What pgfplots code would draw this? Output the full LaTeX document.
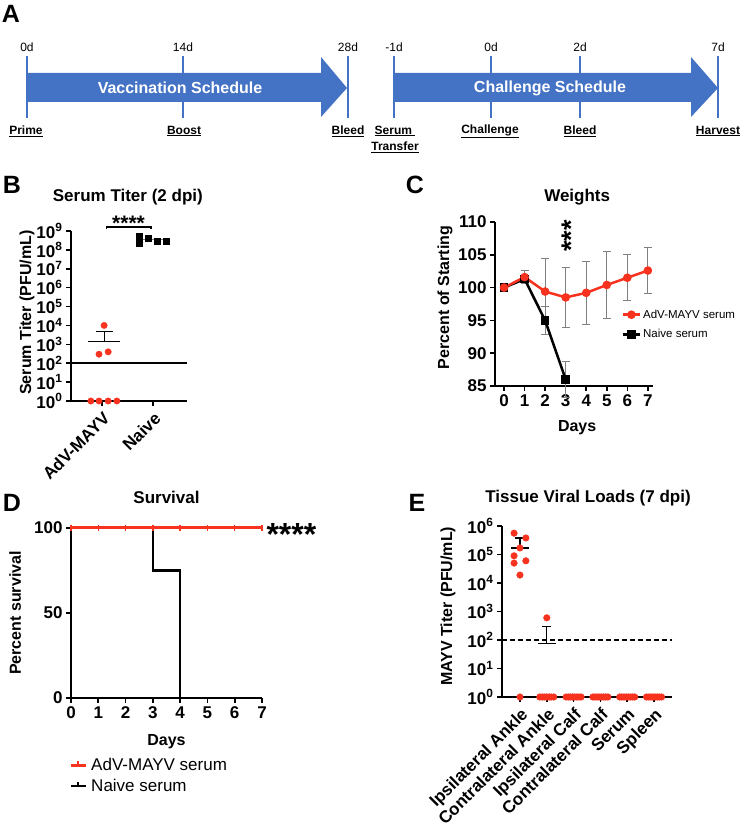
\documentclass[border=0pt]{standalone}
\usepackage{fontspec}
\setmainfont{Liberation Sans}
\usepackage{pgfplots}
\pgfplotsset{compat=1.18}
\definecolor{myred}{RGB}{247,50,30}
\definecolor{ablue}{RGB}{68,114,196}
\newcommand\fs[2]{\fontsize{#1}{#2}\selectfont}
\pgfplotsset{
  panel/.style={scale only axis, axis lines=left, axis line style={line width=1.8pt, -, black},
    tick style={line width=1.6pt, black}, major tick length=5pt, tick align=outside,
    minor tick style={draw=none},
    clip=false, ticklabel style={font=\bfseries\fs{17}{20}},
    /pgf/number format/assume math mode=true,
    label style={font=\bfseries\fs{16}{19}}, title style={font=\bfseries\fs{17}{20}, yshift=-8pt}}
}
\begin{document}
\begin{tikzpicture}[x=1pt,y=1pt]
\useasboundingbox (0,0) rectangle (743,824);
% ---------------- Panel A ----------------
\node[font=\bfseries\fs{25}{28}] at (11,810) {A};
\fill[ablue] (27,751) -- (321,751) -- (321,767) -- (347,736) -- (321,707) -- (321,722) -- (27,722) -- cycle;
\fill[ablue] (394,751) -- (691,751) -- (691,767) -- (718,736) -- (691,707) -- (691,722) -- (394,722) -- cycle;
\foreach \x in {27,183,348,394,491,580,718} \draw[ablue, line width=1.5pt] (\x,768) -- (\x,706);
\foreach \x/\t in {27/0d,183/14d,348/28d,394/-1d,491/0d,580/2d,718/7d}
  \node[font=\fs{12}{14}] at (\x,777) {\t};
\node[font=\bfseries\fs{16}{19}, text=white] at (180,736) {Vaccination Schedule};
\node[font=\bfseries\fs{16}{19}, text=white] at (550,736) {Challenge Schedule};
\foreach \x/\t in {26/Prime,184/Boost,348/Bleed,490/Challenge,580/Bleed,718/Harvest}
  \node[font=\bfseries\fs{12}{14}] at (\x,693) {\underline{\t}};
\node[font=\bfseries\fs{12}{14}] at (395,693) {\underline{Serum\ }};
\node[font=\bfseries\fs{12}{14}] at (395,677) {\underline{Transfer}};
% ---------------- Panel letters ----------------
\node[font=\bfseries\fs{25}{28}] at (12,639) {B};
\node[font=\bfseries\fs{25}{28}] at (415,639) {C};
\node[font=\bfseries\fs{25}{28}] at (12,321) {D};
\node[font=\bfseries\fs{25}{28}] at (417,321) {E};
% ---------------- Panel B ----------------
\begin{axis}[panel, at={(71pt,423pt)}, anchor=south west, width=116pt, height=170pt,
  ymode=log, ymin=1, ymax=1e9, xmin=-0.61, xmax=1.667,
  ytick={1,10,100,1000,10000,100000,1000000,10000000,100000000,1000000000},
  yticklabels={10\textsuperscript{0},10\textsuperscript{1},10\textsuperscript{2},10\textsuperscript{3},10\textsuperscript{4},10\textsuperscript{5},10\textsuperscript{6},10\textsuperscript{7},10\textsuperscript{8},10\textsuperscript{9}},
  xtick={0,1}, xticklabels={AdV-MAYV,Naive}, xticklabel style={rotate=45, anchor=north east},
  ylabel={Serum Titer (PFU/mL)}, ylabel style={at={(axis description cs:-0.38,0.52)}, anchor=center},
  title={Serum Titer (2 dpi)}, title style={at={(axis description cs:0.49,1.21)}, anchor=center}]
\addplot[black, line width=1.5pt] coordinates {(-0.61,100) (1.667,100)};
\addplot[only marks, mark=*, mark size=3.2pt, myred] coordinates {(0.04,10000) (-0.06,300) (0.12,400) (-0.22,1) (-0.06,1) (0.12,1) (0.29,1)};
\addplot[black, line width=1.2pt] coordinates {(-0.27,1400) (0.35,1400)};
\addplot[black, line width=1.2pt] coordinates {(0.04,1400) (0.04,5000)};
\addplot[black, line width=1.2pt] coordinates {(-0.12,5000) (0.21,5000)};
\addplot[only marks, mark=square*, mark size=3pt, black] coordinates {(0.73,5.4e8) (0.73,2.3e8) (0.9,4.2e8) (1.08,3e8) (1.25,3e8)};
\addplot[gray, line width=1.2pt] coordinates {(0.75,3.7e8) (1.2,3.7e8)};
\addplot[black, line width=1.3pt] coordinates {(0.08,1.25e9) (0.08,1.6e9) (0.96,1.6e9) (0.96,1.25e9)};
\node[font=\bfseries\fs{21}{24}, anchor=base, yshift=-3pt] at (axis cs:0.52,1.6e9) {****};
\end{axis}
% ---------------- Panel C ----------------
\begin{axis}[panel, at={(495pt,438pt)}, anchor=south west, width=158pt, height=164pt,
  xmin=-0.44, xmax=7.25, ymin=85, ymax=110, xtick={0,...,7}, ytick={85,90,...,110},
  xlabel={Days}, xlabel style={at={(axis description cs:0.52,-0.256)}, anchor=center},
  ylabel={Percent of Starting}, ylabel style={at={(axis description cs:-0.316,0.54)}, anchor=center},
  title={Weights}, title style={at={(axis description cs:0.52,1.165)}, anchor=center},
  legend style={at={(axis description cs:0.80,0.478)}, anchor=north west, draw=none, fill=none,
    font=\fs{11.5}{13}, inner sep=0pt, row sep=6pt}, legend cell align=left]
\addlegendimage{myred, line width=2.5pt, mark=*, mark size=3pt}
\addlegendentry{AdV-MAYV serum}
\addlegendimage{black, line width=2.5pt, mark=square*, mark size=3pt}
\addlegendentry{Naive serum}
\addplot[forget plot, only marks, mark=none, error bars/.cd, y dir=both, y explicit,
  error bar style={gray, line width=0.9pt}, error mark options={rotate=90, mark size=4pt, gray, line width=0.9pt}]
  coordinates {(0,100)+-(0,0.2) (1,101.6)+-(0,1.0) (2,99.4)+-(0,5.0) (3,98.5)+-(0,4.5) (4,99.2)+-(0,4.8) (5,100.4)+-(0,5.1) (6,101.5)+-(0,3.5) (7,102.6)+-(0,3.5)};
\addplot[forget plot, only marks, mark=none, error bars/.cd, y dir=both, y explicit,
  error bar style={gray, line width=0.9pt}, error mark options={rotate=90, mark size=4pt, gray, line width=0.9pt}]
  coordinates {(1,101.3)+-(0,0.5) (2,95.0)+-(0,2.1) (3,86.0)+-(0,2.7)};
\addplot[forget plot, black, line width=2.5pt, mark=square*, mark size=3pt] coordinates {(0,100) (1,101.3) (2,95.0) (3,86.0)};
\addplot[forget plot, myred, line width=2.5pt, mark=*, mark size=3pt] coordinates {(0,100) (1,101.6) (2,99.4) (3,98.5) (4,99.2) (5,100.4) (6,101.5) (7,102.6)};
\node[font=\bfseries\fs{27}{30}, rotate=90, anchor=base, yshift=-15pt] at (axis cs:3,107.9) {***};
\end{axis}
% ---------------- Panel D ----------------
\begin{axis}[panel, at={(71pt,126pt)}, anchor=south west, width=191pt, height=170pt,
  xmin=0, xmax=7, ymin=0, ymax=100, xtick={0,...,7}, ytick={0,50,100},
  xlabel={Days}, xlabel style={at={(axis description cs:0.5,-0.259)}, anchor=center},
  ylabel={Percent survival}, ylabel style={at={(axis description cs:-0.293,0.5)}, anchor=center},
  title={Survival}, title style={at={(axis description cs:0.5,1.194)}, anchor=center},
  legend style={at={(axis description cs:-0.01,-0.345)}, anchor=north west, draw=none, fill=none,
    font=\fs{17}{20}, inner sep=0pt, row sep=4pt, nodes={inner sep=1.5pt}}, legend cell align=left,
  legend image code/.code={\draw[line width=2.5pt,#1] (1pt,0pt) -- (16pt,0pt); \draw[line width=1.2pt,#1] (8.5pt,0pt) -- (8.5pt,4pt); \path (20pt,0pt);}]
\addlegendimage{myred}
\addlegendentry{AdV-MAYV serum}
\addlegendimage{black}
\addlegendentry{Naive serum}
\addplot[forget plot, black, line width=2.5pt, const plot] coordinates {(0,100) (3,75) (4,0)};
\addplot[forget plot, myred, line width=3pt, mark=|, mark size=3pt, mark options={line width=1.4pt}] coordinates {(0,100) (1,100) (2,100) (3,100) (4,100) (5,100) (6,100) (7,100)};
\node[font=\bfseries\fs{32}{36}, anchor=base west, yshift=-18pt, xshift=1pt] at (axis cs:7,100) {****};
\end{axis}
% ---------------- Panel E ----------------
\begin{axis}[panel, at={(502pt,127pt)}, anchor=south west, width=170pt, height=171pt,
  ymode=log, ymin=1, ymax=1e6, xmin=-0.67, xmax=5.67,
  ytick={1,10,100,1000,10000,100000,1000000},
  yticklabels={10\textsuperscript{0},10\textsuperscript{1},10\textsuperscript{2},10\textsuperscript{3},10\textsuperscript{4},10\textsuperscript{5},10\textsuperscript{6}},
  xtick={0,...,5}, xticklabels={Ipsilateral Ankle,Contralateral Ankle,Ipsilateral Calf,Contralateral Calf,Serum,Spleen},
  xticklabel style={rotate=45, anchor=north east},
  ylabel={MAYV Titer (PFU/mL)}, ylabel style={at={(axis description cs:-0.318,0.53)}, anchor=center},
  title={Tissue Viral Loads (7 dpi)}, title style={at={(axis description cs:0.506,1.175)}, anchor=center}]
\addplot[black, line width=1.3pt, dash pattern=on 5pt off 3pt] coordinates {(-0.67,100) (5.67,100)};
\addplot[only marks, mark=*, mark size=3.3pt, myred] coordinates {
 (-0.22,5.6e5) (0.22,3.8e5) (0,1.7e5) (-0.22,9e4) (-0.22,5e4) (0.22,6e4) (0,1.9e4) (0,1)
 (1,600) (0.74,1) (0.83,1) (0.91,1) (1.0,1) (1.09,1) (1.17,1) (1.26,1)
 (1.72,1) (1.8,1) (1.88,1) (1.96,1) (2.04,1) (2.12,1) (2.2,1) (2.28,1)
 (2.72,1) (2.8,1) (2.88,1) (2.96,1) (3.04,1) (3.12,1) (3.2,1) (3.28,1)
 (3.72,1) (3.8,1) (3.88,1) (3.96,1) (4.04,1) (4.12,1) (4.2,1) (4.28,1)
 (4.72,1) (4.8,1) (4.88,1) (4.96,1) (5.04,1) (5.12,1) (5.2,1) (5.28,1)};
\addplot[black, line width=1.2pt] coordinates {(-0.33,1.7e5) (0.33,1.7e5)};
\addplot[black, line width=1.2pt] coordinates {(0,1.7e5) (0,3.8e5)};
\addplot[black, line width=1.2pt] coordinates {(-0.2,3.8e5) (0.2,3.8e5)};
\addplot[black, line width=1.2pt] coordinates {(0.67,76) (1.34,76)};
\addplot[black, line width=1.2pt] coordinates {(1,76) (1,290)};
\addplot[black, line width=1.2pt] coordinates {(0.83,290) (1.17,290)};
\end{axis}
\end{tikzpicture}
\end{document}
